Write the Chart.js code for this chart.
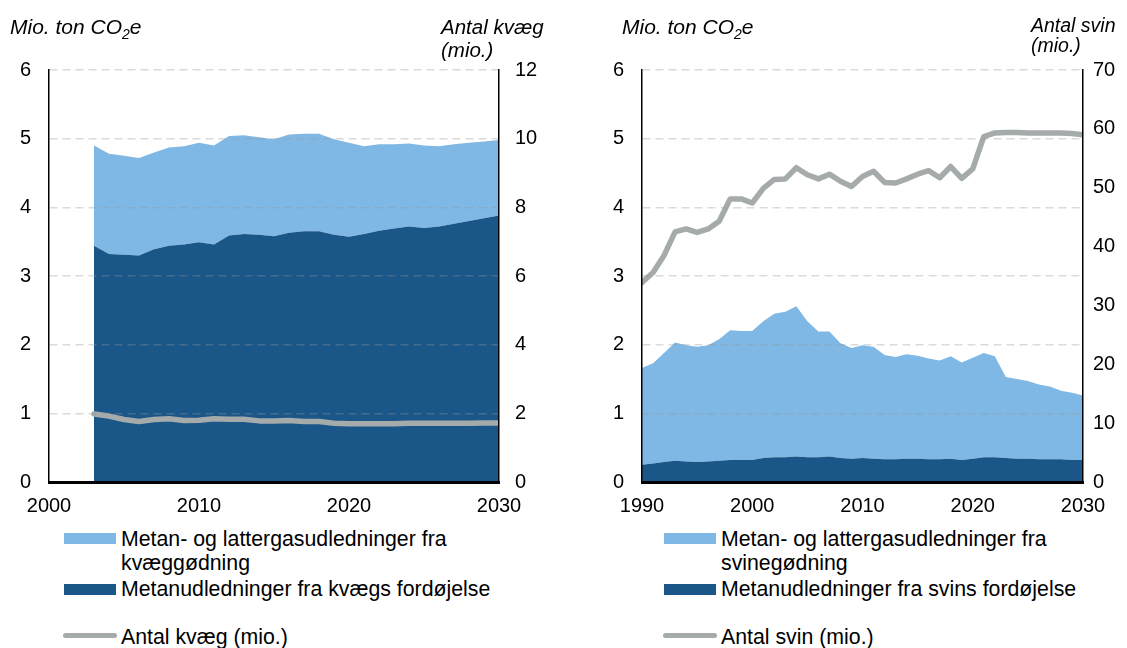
<!DOCTYPE html>
<html>
<head>
<meta charset="utf-8">
<script src="https://cdn.jsdelivr.net/npm/chart.js@4.4.1/dist/chart.umd.min.js"></script>
<style>
  html, body { margin:0; padding:0; background:#fff; }
  body { width:1127px; height:648px; position:relative; overflow:hidden;
         font-family:"Liberation Sans", Arial, sans-serif; color:#000; }
  canvas { position:absolute; top:0; }
  .t { position:absolute; font-size:20px; font-style:italic; line-height:23px; white-space:nowrap; }
  .t sub { font-size:14px; vertical-align:-5px; line-height:0; }
  .leg { position:absolute; font-size:21.3px; line-height:24px; white-space:nowrap; }
  .sw { position:absolute; width:52px; height:11px; }
  .ln { position:absolute; width:54px; height:5px; border-radius:3px; }
</style>
</head>
<body>
<canvas id="c1" width="560" height="520" style="left:0px"></canvas>
<canvas id="c2" width="567" height="520" style="left:560px"></canvas>

<div class="t" style="left:10px; top:15px; font-size:21px;">Mio. ton CO<sub>2</sub>e</div>
<div class="t" style="left:441px; top:15px; font-size:20.5px;">Antal kvæg<br>(mio.)</div>
<div class="t" style="left:622px; top:15px; font-size:21px;">Mio. ton CO<sub>2</sub>e</div>
<div class="t" style="left:1031px; top:15px; font-size:19.5px; line-height:20px;">Antal svin<br>(mio.)</div>

<div class="sw" style="left:64px; top:533px; background:#7fb8e5"></div>
<div class="leg" style="left:121px; top:527px;">Metan- og lattergasudledninger fra<br>kvæggødning</div>
<div class="sw" style="left:64px; top:584px; background:#1b5688"></div>
<div class="leg" style="left:121px; top:577px;">Metanudledninger fra kvægs fordøjelse</div>
<div class="ln" style="left:63px; top:633px; background:#a5aaab"></div>
<div class="leg" style="left:121px; top:625px;">Antal kvæg (mio.)</div>

<div class="sw" style="left:664px; top:533px; background:#7fb8e5"></div>
<div class="leg" style="left:721px; top:527px;">Metan- og lattergasudledninger fra<br>svinegødning</div>
<div class="sw" style="left:664px; top:584px; background:#1b5688"></div>
<div class="leg" style="left:721px; top:577px;">Metanudledninger fra svins fordøjelse</div>
<div class="ln" style="left:663px; top:633px; background:#a5aaab"></div>
<div class="leg" style="left:721px; top:625px;">Antal svin (mio.)</div>

<script>
// ---------- DATA ----------
const cattleYears = [2003,2004,2005,2006,2007,2008,2009,2010,2011,2012,2013,2014,2015,2016,2017,2018,2019,2020,2021,2022,2023,2024,2025,2026,2027,2028,2029,2030];
const cattleDigestion = [3.44,3.32,3.31,3.30,3.39,3.44,3.46,3.49,3.46,3.59,3.61,3.60,3.58,3.63,3.65,3.65,3.60,3.57,3.61,3.66,3.69,3.72,3.70,3.72,3.76,3.80,3.84,3.88];
const cattleManure = [1.46,1.46,1.44,1.42,1.41,1.43,1.43,1.45,1.44,1.45,1.44,1.42,1.41,1.43,1.42,1.42,1.39,1.37,1.28,1.26,1.23,1.21,1.20,1.17,1.16,1.14,1.12,1.10];
const cattleCount = [1.98,1.92,1.82,1.76,1.82,1.84,1.79,1.80,1.84,1.83,1.83,1.78,1.78,1.79,1.76,1.76,1.71,1.70,1.70,1.70,1.70,1.71,1.71,1.71,1.71,1.71,1.72,1.72];

const pigYears = [1990,1991,1992,1993,1994,1995,1996,1997,1998,1999,2000,2001,2002,2003,2004,2005,2006,2007,2008,2009,2010,2011,2012,2013,2014,2015,2016,2017,2018,2019,2020,2021,2022,2023,2024,2025,2026,2027,2028,2029,2030];
const pigDigestion = [0.25,0.27,0.29,0.31,0.30,0.29,0.30,0.31,0.32,0.32,0.32,0.35,0.36,0.36,0.37,0.36,0.36,0.37,0.35,0.34,0.35,0.34,0.33,0.33,0.34,0.34,0.33,0.33,0.34,0.32,0.34,0.36,0.36,0.35,0.34,0.34,0.33,0.33,0.33,0.32,0.32];
const pigManure = [1.41,1.46,1.59,1.72,1.69,1.68,1.69,1.77,1.89,1.88,1.88,1.99,2.09,2.12,2.19,1.98,1.83,1.82,1.67,1.61,1.64,1.63,1.52,1.49,1.52,1.50,1.47,1.44,1.49,1.42,1.47,1.52,1.47,1.18,1.16,1.13,1.09,1.06,1.00,0.98,0.94];
const pigCount = [33.9,35.6,38.5,42.5,43.0,42.4,43.0,44.3,48.1,48.1,47.4,49.9,51.4,51.5,53.4,52.2,51.5,52.3,51.1,50.2,51.9,52.8,50.9,50.8,51.5,52.3,52.9,51.7,53.6,51.6,53.2,58.7,59.3,59.4,59.4,59.3,59.3,59.3,59.3,59.2,59.0];

const leftXTicks = [2000, 2030, 10];   // min, max, step
const rightXTicks = [1990, 2030, 10];
const leftY2 = [0, 12, 2];
const rightY2 = [0, 70, 10];
const yMain = [0, 6, 1];

// ---------- STYLE ----------
const LIGHT = '#7fb8e5', DARK = '#1b5688', GRAY = '#a5aaab';
const FONT = { family: '"Liberation Sans", Arial, sans-serif', size: 20 };

function pts(xs, ys) { return xs.map((x, i) => ({ x: x, y: ys[i] })); }

function makeChart(id, years, dig, man, cnt, xT, y2T, wL, wR, padR) {
  return new Chart(document.getElementById(id), {
    type: 'line',
    data: {
      datasets: [
        { label: 'count', data: pts(years, cnt), yAxisID: 'y2', borderColor: GRAY, borderWidth: 5.5,
          pointRadius: 0, fill: false, tension: 0, order: 0, borderCapStyle: 'round', borderJoinStyle: 'round' },
        { label: 'digestion', data: pts(years, dig), yAxisID: 'y', backgroundColor: DARK, borderWidth: 0,
          borderColor: 'rgba(0,0,0,0)', pointRadius: 0, fill: 'origin', tension: 0, order: 1 },
        { label: 'manure', data: pts(years, man), yAxisID: 'y', backgroundColor: LIGHT, borderWidth: 0,
          borderColor: 'rgba(0,0,0,0)', pointRadius: 0, fill: '-1', tension: 0, order: 2 }
      ]
    },
    options: {
      responsive: false, animation: false, devicePixelRatio: 1,
      layout: { padding: { top: 70, left: 0, right: 0, bottom: 0 } },
      plugins: { legend: { display: false }, tooltip: { enabled: false } },
      scales: {
        x: {
          type: 'linear', min: xT[0], max: xT[1],
          ticks: { stepSize: xT[2], font: FONT, color: '#000', padding: 12, maxRotation: 0, autoSkip: false,
                   callback: v => String(v) },
          grid: { display: false, drawTicks: false },
          border: { display: true, color: '#000', width: 3, z: 2 },
          afterFit: s => { s.height = 38; }
        },
        y: {
          stacked: true, position: 'left', min: yMain[0], max: yMain[1],
          ticks: { stepSize: yMain[2], font: FONT, color: '#000', padding: 18 },
          grid: { color: 'rgba(150,150,150,0.35)', lineWidth: 1.5, drawTicks: false, z: 1 },
          border: { display: true, color: '#000', width: 1.5, dash: [8, 5], z: 2 },
          afterFit: s => { s.width = wL; }
        },
        y2: {
          position: 'right', min: y2T[0], max: y2T[1],
          ticks: { stepSize: y2T[2], font: FONT, color: '#000', padding: padR },
          grid: { display: false, drawTicks: false },
          border: { display: true, color: '#000', width: 1.5, z: 2 },
          afterFit: s => { s.width = wR; }
        }
      }
    }
  });
}

makeChart('c1', cattleYears, cattleDigestion, cattleManure, cattleCount, leftXTicks, leftY2, 49, 61, 16);
makeChart('c2', pigYears, pigDigestion, pigManure, pigCount, rightXTicks, rightY2, 82, 44, 10);
</script>
</body>
</html>
